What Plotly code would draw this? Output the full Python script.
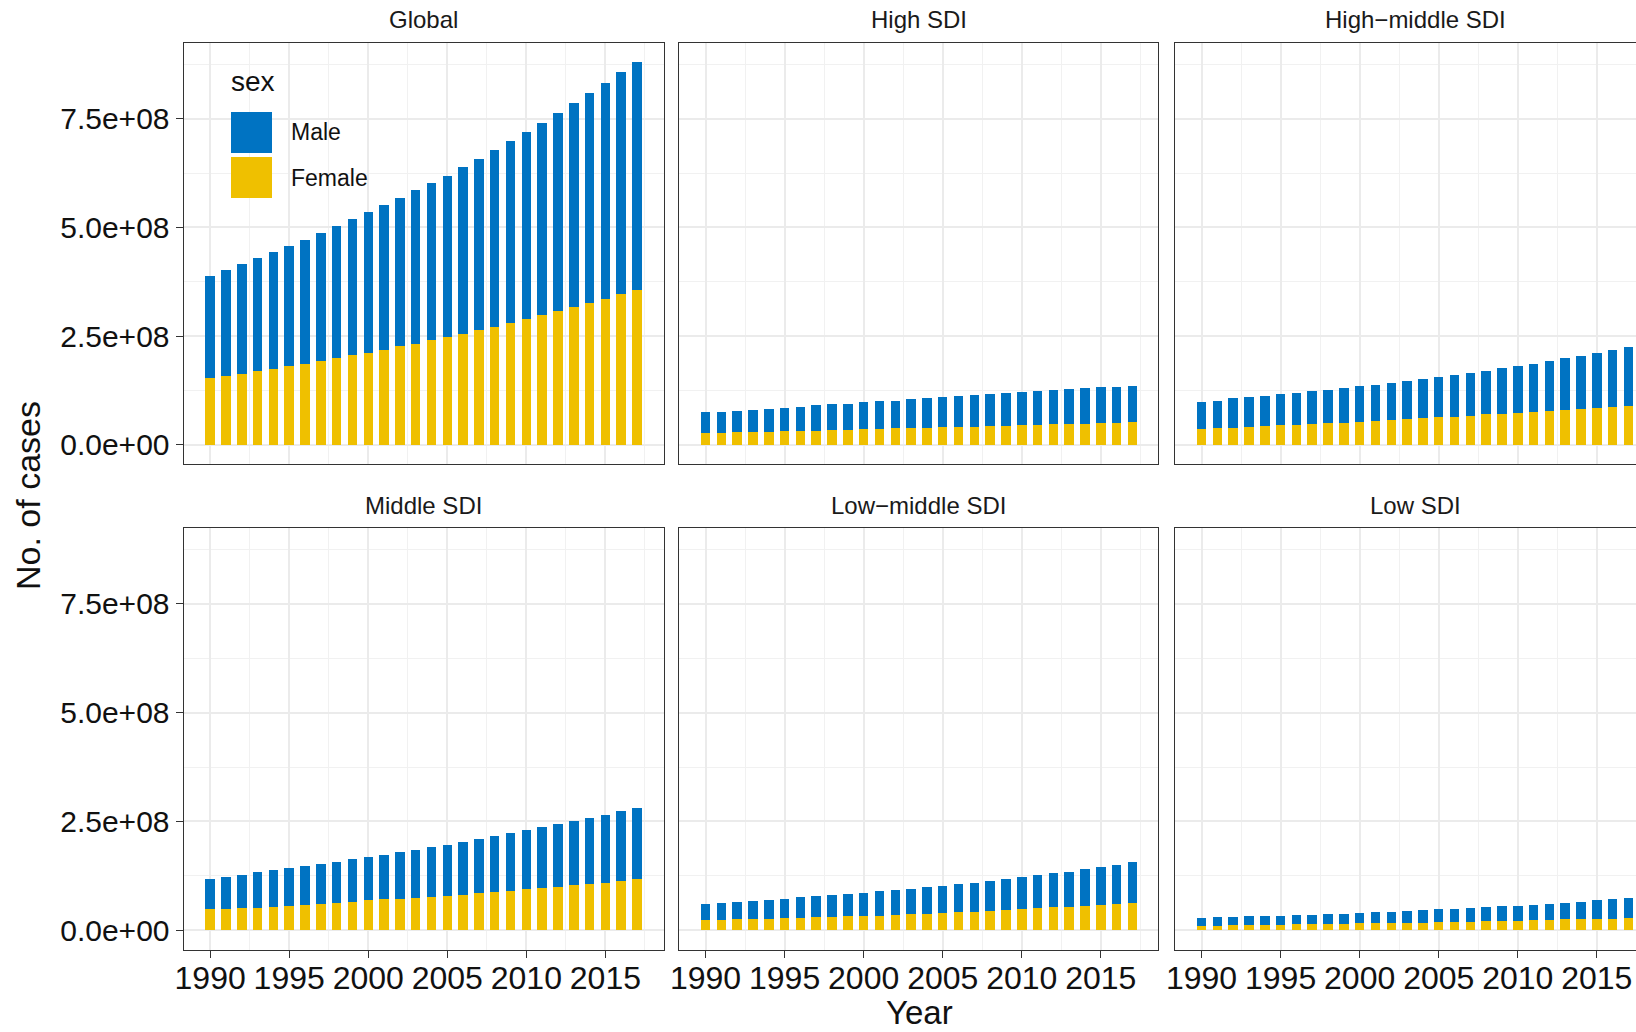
import plotly.graph_objects as go

# ---------------- data (values in units of 1e8 cases) ----------------
years = list(range(1990, 2018))
regions = ["Global", "High SDI", "High\u2212middle SDI",
           "Middle SDI", "Low\u2212middle SDI", "Low SDI"]
sexes = ["Male", "Female"]

global_female = [1.53, 1.59, 1.64, 1.69, 1.75, 1.81, 1.86, 1.93, 1.99, 2.06,
                 2.12, 2.19, 2.27, 2.33, 2.41, 2.48, 2.56, 2.63, 2.72, 2.81,
                 2.90, 2.99, 3.08, 3.17, 3.26, 3.36, 3.46, 3.55]
global_male = [2.36, 2.44, 2.52, 2.60, 2.68, 2.76, 2.85, 2.94, 3.04, 3.13,
               3.23, 3.32, 3.40, 3.52, 3.61, 3.71, 3.82, 3.95, 4.05, 4.17,
               4.29, 4.42, 4.55, 4.69, 4.83, 4.97, 5.11, 5.26]

high_female = [0.27, 0.28, 0.29, 0.29, 0.30, 0.31, 0.32, 0.33, 0.34, 0.35,
               0.36, 0.37, 0.38, 0.38, 0.39, 0.40, 0.41, 0.42, 0.43, 0.44,
               0.45, 0.46, 0.47, 0.48, 0.49, 0.50, 0.51, 0.52]
high_male = [0.48, 0.48, 0.49, 0.52, 0.53, 0.54, 0.56, 0.58, 0.59, 0.60,
             0.62, 0.63, 0.64, 0.67, 0.69, 0.70, 0.71, 0.73, 0.74, 0.75,
             0.77, 0.78, 0.79, 0.80, 0.81, 0.82, 0.83, 0.84]

highmid_female = [0.36, 0.38, 0.39, 0.41, 0.43, 0.45, 0.46, 0.48, 0.50, 0.51,
                  0.53, 0.55, 0.57, 0.59, 0.61, 0.63, 0.65, 0.67, 0.70, 0.72,
                  0.74, 0.76, 0.78, 0.80, 0.82, 0.84, 0.87, 0.90]
highmid_male = [0.63, 0.64, 0.68, 0.68, 0.70, 0.71, 0.73, 0.75, 0.77, 0.80,
                0.82, 0.83, 0.86, 0.88, 0.91, 0.92, 0.95, 0.98, 1.00, 1.04,
                1.08, 1.11, 1.15, 1.19, 1.23, 1.28, 1.31, 1.34]

middle_female = [0.48, 0.49, 0.51, 0.52, 0.54, 0.56, 0.58, 0.61, 0.63, 0.66,
                 0.69, 0.71, 0.73, 0.75, 0.77, 0.79, 0.82, 0.85, 0.88, 0.91,
                 0.94, 0.97, 1.00, 1.03, 1.06, 1.09, 1.13, 1.18]
middle_male = [0.71, 0.74, 0.77, 0.81, 0.84, 0.88, 0.90, 0.92, 0.95, 0.98,
               1.00, 1.03, 1.07, 1.10, 1.14, 1.18, 1.21, 1.25, 1.29, 1.32,
               1.37, 1.40, 1.44, 1.49, 1.53, 1.57, 1.60, 1.63]

lowmid_female = [0.23, 0.24, 0.25, 0.26, 0.27, 0.28, 0.29, 0.30, 0.31, 0.32,
                 0.33, 0.34, 0.36, 0.37, 0.38, 0.40, 0.41, 0.43, 0.45, 0.47,
                 0.49, 0.51, 0.53, 0.54, 0.56, 0.58, 0.60, 0.62]
lowmid_male = [0.38, 0.39, 0.40, 0.42, 0.43, 0.45, 0.47, 0.48, 0.50, 0.51,
               0.53, 0.56, 0.57, 0.59, 0.61, 0.62, 0.65, 0.66, 0.69, 0.71,
               0.73, 0.75, 0.78, 0.81, 0.84, 0.87, 0.90, 0.94]

low_female = [0.11, 0.11, 0.12, 0.12, 0.13, 0.13, 0.14, 0.14, 0.15, 0.15,
              0.16, 0.16, 0.17, 0.18, 0.18, 0.19, 0.20, 0.20, 0.21, 0.22,
              0.22, 0.23, 0.24, 0.25, 0.25, 0.26, 0.27, 0.28]
low_male = [0.18, 0.19, 0.19, 0.20, 0.20, 0.21, 0.21, 0.22, 0.22, 0.23,
            0.24, 0.25, 0.26, 0.26, 0.28, 0.29, 0.30, 0.31, 0.32, 0.33,
            0.35, 0.36, 0.37, 0.38, 0.40, 0.43, 0.45, 0.47]

UNIT = 1e8
y_tickvals = [0, 2.5e8, 5.0e8, 7.5e8]
y_ticktext = ["0.0e+00", "2.5e+08", "5.0e+08", "7.5e+08"]
x_tickvals = [1990, 1995, 2000, 2005, 2010, 2015]

female_series = [global_female, high_female, highmid_female,
                 middle_female, lowmid_female, low_female]
male_series = [global_male, high_male, highmid_male,
               middle_male, lowmid_male, low_male]

# ---------------- styling ----------------
MALE_COLOR = "#0073C2"
FEMALE_COLOR = "#EFC000"
FONT = "Liberation Sans, Arial, Helvetica, sans-serif"
W, H = 1636, 1032

col_px = [(183.6, 663.6), (679.0, 1158.0), (1175.0, 1636.0)]
row_px = [(43.0, 464.0), (528.0, 949.5)]
col_dom = [[a / W, b / W] for a, b in col_px]
row_dom = [[1 - b / H, 1 - a / H] for a, b in row_px]

x_lo = 1988.32
px_per_year = 480.0 / (2018.68 - 1988.32)
y_range = [-0.44e8, 9.24e8]

fig = go.Figure()
layout = dict(
    width=W, height=H, autosize=False,
    margin=dict(l=0, r=0, t=0, b=0, pad=0, autoexpand=False),
    paper_bgcolor="white", plot_bgcolor="white",
    barmode="stack", showlegend=False,
    font=dict(family=FONT, color="#1a1a1a"),
)

for i in range(6):
    r, c = divmod(i, 3)
    ax = "" if i == 0 else str(i + 1)
    fig.add_trace(go.Bar(x=years, y=[v * UNIT for v in female_series[i]],
                         name=sexes[1], width=0.6,
                         marker=dict(color=FEMALE_COLOR, line=dict(width=0)),
                         xaxis="x" + ax, yaxis="y" + ax, showlegend=False))
    fig.add_trace(go.Bar(x=years, y=[v * UNIT for v in male_series[i]],
                         name=sexes[0], width=0.6,
                         marker=dict(color=MALE_COLOR, line=dict(width=0)),
                         xaxis="x" + ax, yaxis="y" + ax, showlegend=False))
    width_px = col_px[c][1] - col_px[c][0]
    x_hi = x_lo + width_px / px_per_year
    layout["xaxis" + ax] = dict(
        domain=col_dom[c], anchor="y" + ax, range=[x_lo, x_hi],
        automargin=False,
        tickmode="array", tickvals=x_tickvals,
        showgrid=True, gridcolor="#EBEBEB", gridwidth=1.5,
        minor=dict(tickmode="linear", tick0=1990, dtick=2.5, showgrid=True,
                   gridcolor="#F1F1F1", gridwidth=1),
        showline=True, linecolor="#333333", linewidth=1.2, mirror=True,
        zeroline=False,
        showticklabels=(r == 1), ticks="outside" if r == 1 else "",
        ticklen=7, tickwidth=1.3, tickcolor="#333333",
        ticklabelstandoff=-7,
        tickfont=dict(size=32, color="#111111", family=FONT),
    )
    layout["yaxis" + ax] = dict(
        domain=row_dom[r], anchor="x" + ax, range=y_range,
        automargin=False,
        tickmode="array", tickvals=y_tickvals, ticktext=y_ticktext,
        showgrid=True, gridcolor="#EBEBEB", gridwidth=1.5,
        minor=dict(tickmode="linear", tick0=0, dtick=1.25e8, showgrid=True,
                   gridcolor="#F1F1F1", gridwidth=1),
        showline=True, linecolor="#333333", linewidth=1.2,
        mirror=(c != 2), zeroline=False,
        showticklabels=(c == 0), ticks="outside" if c == 0 else "",
        ticklen=7, tickwidth=1.3, tickcolor="#333333",
        tickfont=dict(size=30, color="#111111", family=FONT),
    )

annotations = []
strip_x = [423.6, 918.5, 1415.0]
strip_y = [19.0, 505.0]
for i, name in enumerate(regions):
    r, c = divmod(i, 3)
    annotations.append(dict(text=name, x=strip_x[c] / W, y=1 - strip_y[r] / H,
                            xref="paper", yref="paper", showarrow=False,
                            xanchor="center", yanchor="middle",
                            font=dict(size=24, color="#1a1a1a", family=FONT)))

annotations.append(dict(text="No. of cases", x=28 / W, y=1 - 496 / H,
                        xref="paper", yref="paper", showarrow=False,
                        textangle=-90, xanchor="center", yanchor="middle",
                        font=dict(size=34, color="#111111", family=FONT)))
annotations.append(dict(text="Year", x=919 / W, y=0.0,
                        xref="paper", yref="paper", showarrow=False,
                        xanchor="center", yanchor="bottom", borderpad=0,
                        font=dict(size=33, color="#111111", family=FONT)))

# manual legend inside the Global panel
annotations.append(dict(text="sex", x=229 / W, y=1 - 81 / H,
                        xref="paper", yref="paper", showarrow=False,
                        xanchor="left", yanchor="middle",
                        font=dict(size=28, color="#111111", family=FONT)))
annotations.append(dict(text=sexes[0], x=289 / W, y=1 - 132 / H,
                        xref="paper", yref="paper", showarrow=False,
                        xanchor="left", yanchor="middle",
                        font=dict(size=23, color="#111111", family=FONT)))
annotations.append(dict(text=sexes[1], x=289 / W, y=1 - 178 / H,
                        xref="paper", yref="paper", showarrow=False,
                        xanchor="left", yanchor="middle",
                        font=dict(size=23, color="#111111", family=FONT)))
shapes = [
    dict(type="rect", xref="paper", yref="paper",
         x0=231 / W, x1=272 / W, y0=1 - 153 / H, y1=1 - 112 / H,
         fillcolor=MALE_COLOR, line=dict(width=0)),
    dict(type="rect", xref="paper", yref="paper",
         x0=231 / W, x1=272 / W, y0=1 - 198 / H, y1=1 - 157 / H,
         fillcolor=FEMALE_COLOR, line=dict(width=0)),
]

layout["annotations"] = annotations
layout["shapes"] = shapes
fig.update_layout(**layout)
fig.write_html(
    "out.html",
    config={"responsive": False, "displayModeBar": False},
    post_script="document.body.style.margin='0';document.body.style.overflow='hidden';",
)
